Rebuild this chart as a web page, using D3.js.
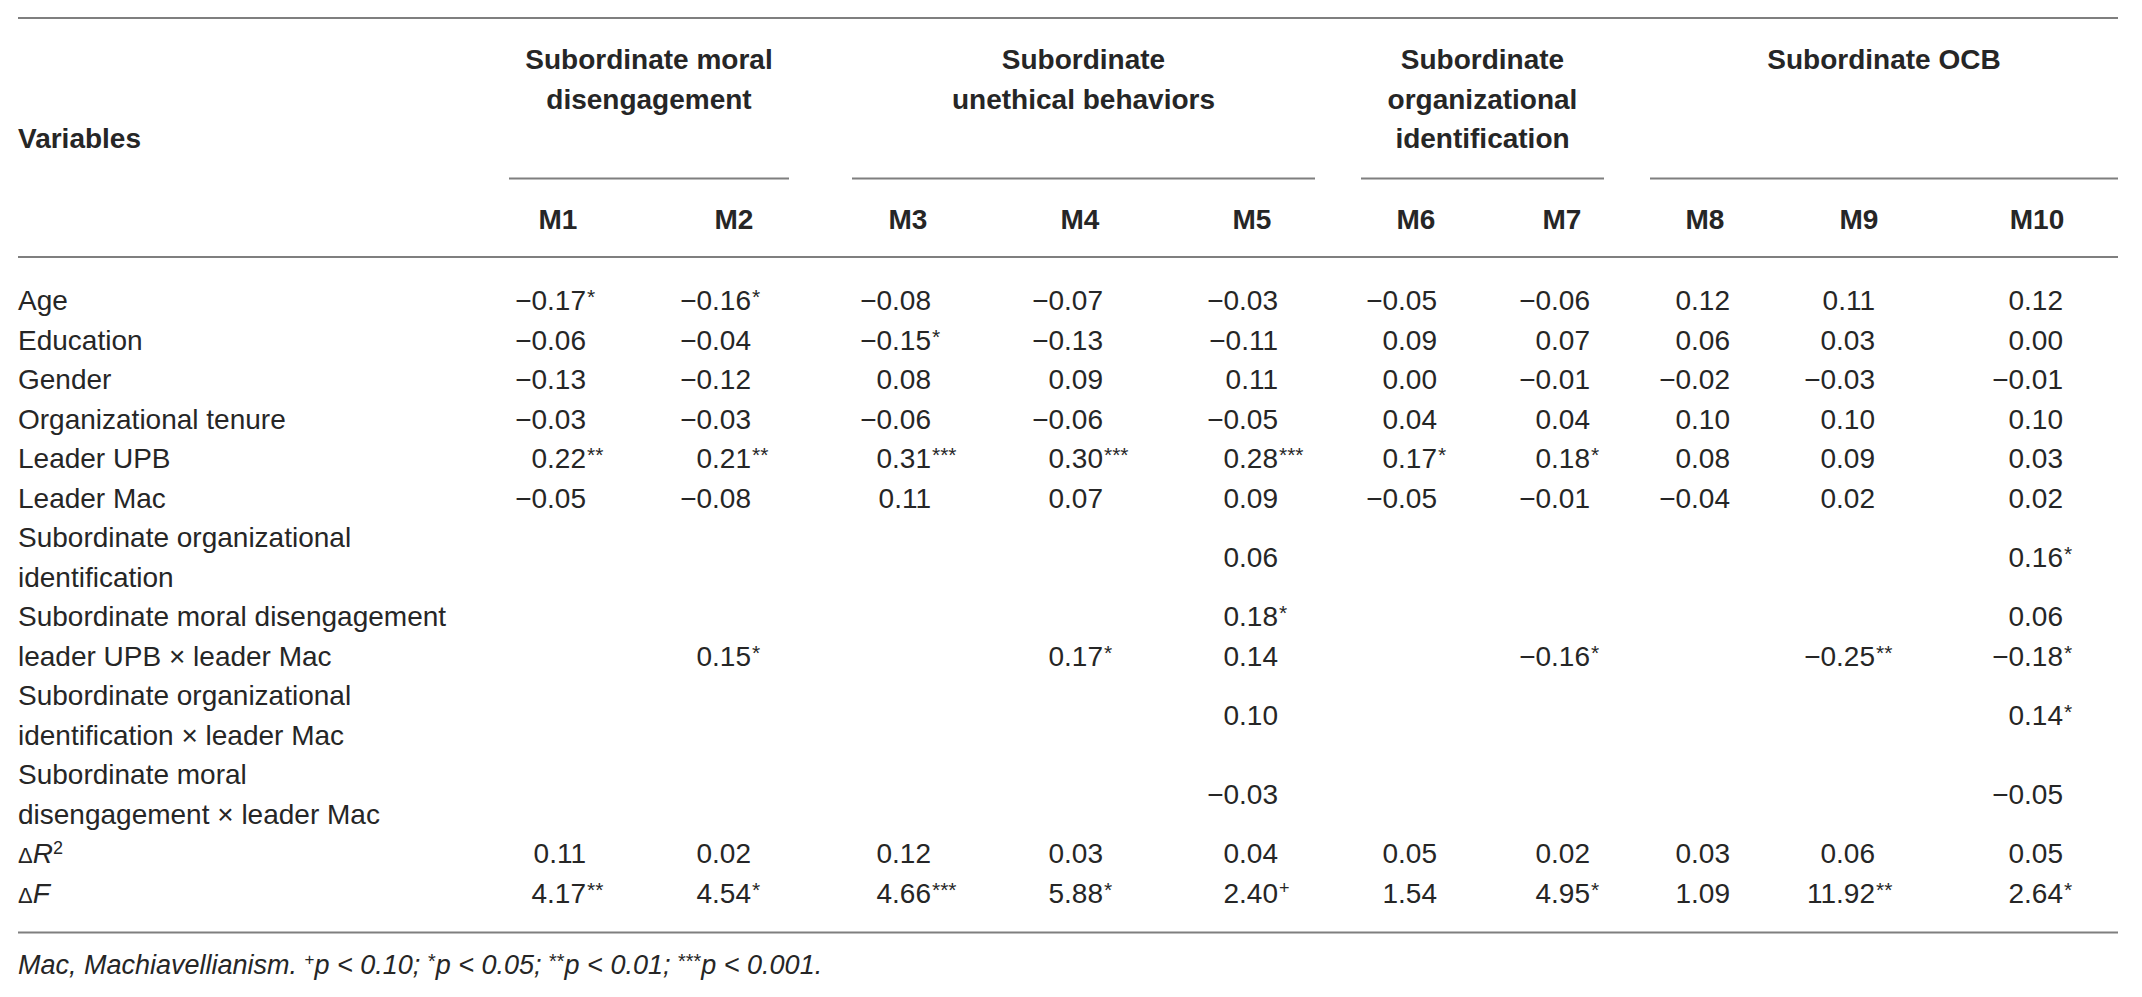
<!DOCTYPE html>
<html>
<head>
<meta charset="utf-8">
<script src="https://cdn.jsdelivr.net/npm/d3@7"></script>
<style>
  html, body { margin: 0; padding: 0; background: #fff; }
  svg { display: block; }
  text { font-family: "Liberation Sans", Arial, Helvetica, sans-serif; fill: #262626; }
</style>
</head>
<body>
<svg id="chart" width="2142" height="997"></svg>
<script>
// ---------------- DATA ----------------
const models = ["M1","M2","M3","M4","M5","M6","M7","M8","M9","M10"];
const groupTitles = [
  ["Subordinate moral", "disengagement"],
  ["Subordinate", "unethical behaviors"],
  ["Subordinate", "organizational", "identification"],
  ["Subordinate OCB"]
];
const groupSizes = [2, 3, 2, 3];
const variableLabels = [
  ["Age"],
  ["Education"],
  ["Gender"],
  ["Organizational tenure"],
  ["Leader UPB"],
  ["Leader Mac"],
  ["Subordinate organizational", "identification"],
  ["Subordinate moral disengagement"],
  ["leader UPB \u00d7 leader Mac"],
  ["Subordinate organizational", "identification \u00d7 leader Mac"],
  ["Subordinate moral", "disengagement \u00d7 leader Mac"],
  ["\u0394R2"],
  ["\u0394F"]
];
const N = null;
const values = [
  [-0.17, -0.16, -0.08, -0.07, -0.03, -0.05, -0.06, 0.12, 0.11, 0.12],
  [-0.06, -0.04, -0.15, -0.13, -0.11, 0.09, 0.07, 0.06, 0.03, 0.00],
  [-0.13, -0.12, 0.08, 0.09, 0.11, 0.00, -0.01, -0.02, -0.03, -0.01],
  [-0.03, -0.03, -0.06, -0.06, -0.05, 0.04, 0.04, 0.10, 0.10, 0.10],
  [0.22, 0.21, 0.31, 0.30, 0.28, 0.17, 0.18, 0.08, 0.09, 0.03],
  [-0.05, -0.08, 0.11, 0.07, 0.09, -0.05, -0.01, -0.04, 0.02, 0.02],
  [N, N, N, N, 0.06, N, N, N, N, 0.16],
  [N, N, N, N, 0.18, N, N, N, N, 0.06],
  [N, 0.15, N, 0.17, 0.14, N, -0.16, N, -0.25, -0.18],
  [N, N, N, N, 0.10, N, N, N, N, 0.14],
  [N, N, N, N, -0.03, N, N, N, N, -0.05],
  [0.11, 0.02, 0.12, 0.03, 0.04, 0.05, 0.02, 0.03, 0.06, 0.05],
  [4.17, 4.54, 4.66, 5.88, 2.40, 1.54, 4.95, 1.09, 11.92, 2.64]
];
const significance = [
  ["*", "*", "", "", "", "", "", "", "", ""],
  ["", "", "*", "", "", "", "", "", "", ""],
  ["", "", "", "", "", "", "", "", "", ""],
  ["", "", "", "", "", "", "", "", "", ""],
  ["**", "**", "***", "***", "***", "*", "*", "", "", ""],
  ["", "", "", "", "", "", "", "", "", ""],
  ["", "", "", "", "", "", "", "", "", "*"],
  ["", "", "", "", "*", "", "", "", "", ""],
  ["", "*", "", "*", "", "", "*", "", "**", "*"],
  ["", "", "", "", "", "", "", "", "", "*"],
  ["", "", "", "", "", "", "", "", "", ""],
  ["", "", "", "", "", "", "", "", "", ""],
  ["**", "*", "***", "*", "+", "", "*", "", "**", "*"]
];
const footnoteParts = [
  ["Mac, Machiavellianism. ", false], ["+", true], ["p < 0.10; ", false],
  ["*", true], ["p < 0.05; ", false], ["**", true], ["p < 0.01; ", false],
  ["***", true], ["p < 0.001.", false]
];

// ---------------- LAYOUT ----------------
const svg = d3.select("#chart");
const FS = 28;
const lineColor = "#7f7f7f";
const xLeft = 18, xRight = 2118;

// column scales (ordinal: irregular column positions)
const numRight = d3.scaleOrdinal().domain(models)
  .range([586, 751, 931, 1103, 1278, 1437, 1590, 1730, 1875, 2063]);
const headCenter = d3.scaleOrdinal().domain(models)
  .range([558, 734, 908, 1080, 1252, 1416, 1562, 1705, 1859, 2037]);
const groupSpans = [[509, 789], [852, 1315], [1361, 1604], [1650, 2118]];

// line slots (each text line = one slot)
const slotY = d3.scaleLinear().domain([0, 15]).range([300, 892.5]);
const headY = d3.scaleLinear().domain([0, 2]).range([59, 138]);
const base = 10; // baseline offset from visual centre

function hline(x1, x2, y) {
  svg.append("line").attr("x1", x1).attr("x2", x2).attr("y1", y).attr("y2", y)
    .attr("stroke", lineColor).attr("stroke-width", 1.8);
}

// rules
hline(xLeft, xRight, 18);
groupSpans.forEach(s => hline(s[0], s[1], 178.5));
hline(xLeft, xRight, 257);
hline(xLeft, xRight, 932.5);

// header
svg.append("text").attr("x", xLeft).attr("y", headY(2) + base)
  .attr("font-size", FS).attr("font-weight", "bold").text("Variables");

groupTitles.forEach((lines, gi) => {
  const cx = (groupSpans[gi][0] + groupSpans[gi][1]) / 2;
  lines.forEach((ln, li) => {
    svg.append("text").attr("x", cx).attr("y", headY(li) + base)
      .attr("text-anchor", "middle").attr("font-size", FS).attr("font-weight", "bold").text(ln);
  });
});

svg.selectAll("text.mhead").data(models).enter().append("text")
  .attr("class", "mhead")
  .attr("x", d => headCenter(d)).attr("y", 219 + base)
  .attr("text-anchor", "middle").attr("font-size", FS).attr("font-weight", "bold")
  .text(d => d);

// body rows
const fmt = d3.format(".2f");
let slot = 0;
variableLabels.forEach((lines, ri) => {
  const start = slot;
  lines.forEach((ln, li) => {
    const y = slotY(slot) + base;
    const t = svg.append("text").attr("x", xLeft).attr("y", y).attr("font-size", FS);
    if (ln.startsWith("\u0394")) {
      t.append("tspan").attr("font-size", 22).text("\u0394");
      if (ln.endsWith("2")) {
        t.append("tspan").attr("font-style", "italic").text("R");
        t.append("tspan").attr("font-size", 18).attr("dy", -9).text("2");
      } else {
        t.append("tspan").attr("font-style", "italic").text(ln.slice(1));
      }
    } else {
      t.text(ln);
    }
    slot++;
  });
  const yc = (slotY(start) + slotY(slot - 1)) / 2 + base;
  models.forEach((m, ci) => {
    const v = values[ri][ci];
    if (v === null) return;
    const s = fmt(v).replace("-", "\u2013");
    svg.append("text").attr("x", numRight(m)).attr("y", yc)
      .attr("text-anchor", "end").attr("font-size", FS).text(s);
    const sig = significance[ri][ci];
    if (sig) {
      if (sig === "+") {
        svg.append("text").attr("x", numRight(m) + 1).attr("y", yc - 9)
          .attr("font-size", 18).text(sig);
      } else {
        svg.append("text").attr("x", numRight(m) + 1).attr("y", yc - 6)
          .attr("font-size", 21).text(sig);
      }
    }
  });
});

// footnote
const fn = svg.append("text").attr("x", xLeft).attr("y", 974)
  .attr("font-size", 27).attr("font-style", "italic");
let shifted = 0;
footnoteParts.forEach(([txt, sup]) => {
  const span = fn.append("tspan").text(txt);
  if (sup) {
    const up = txt === "+" ? -9 : -6;
    span.attr("font-size", txt === "+" ? 17 : 20).attr("font-style", "normal").attr("dy", up - shifted);
    shifted = up;
  } else {
    span.attr("dy", -shifted);
    shifted = 0;
  }
});
</script>
</body>
</html>
